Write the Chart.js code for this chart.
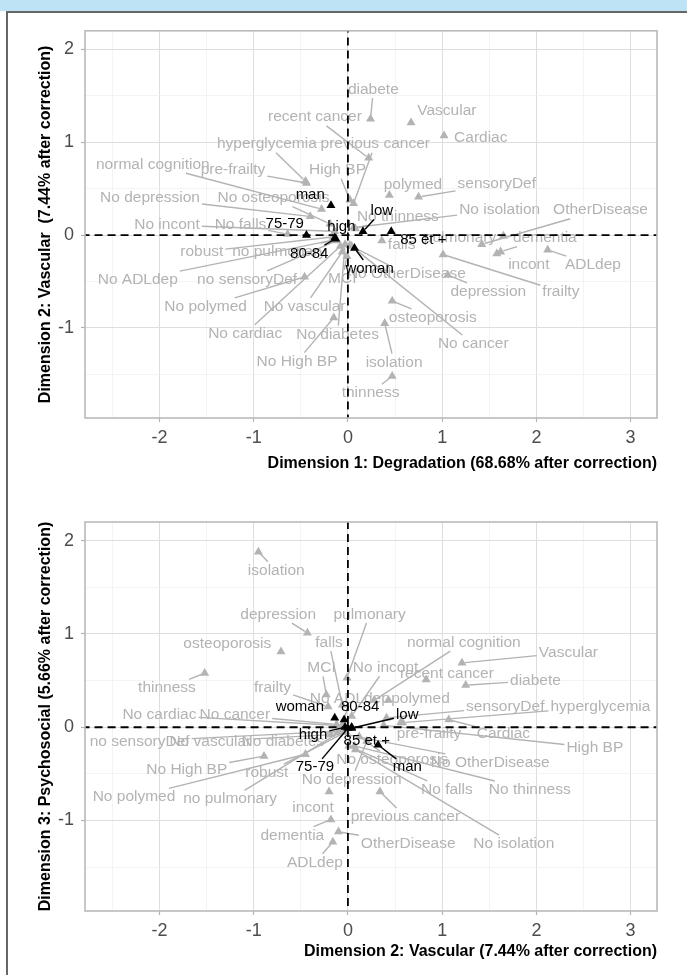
<!DOCTYPE html>
<html><head><meta charset="utf-8">
<script src="https://cdn.jsdelivr.net/npm/chart.js@4.4.0/dist/chart.umd.min.js"></script>
<style>
html,body{margin:0;padding:0;background:#fff;width:687px;height:975px;overflow:hidden;}
#band{position:absolute;left:0;top:0;width:687px;height:11px;background:#bde3f5;}
#frame{position:absolute;left:6px;top:11px;width:700px;height:1000px;border-left:2px solid #666;border-top:2px solid #666;}
#w1{position:absolute;left:0;top:13px;}
#w2{position:absolute;left:0;top:490px;}
</style></head>
<body>
<div id="band"></div><div id="frame"></div>
<div id="w1"><canvas id="c1" width="687" height="477"></canvas></div>
<div id="w2"><canvas id="c2" width="687" height="485"></canvas></div>
<script>
// ---------- data ----------
const categories = ["diabete","No diabetes","recent cancer","previous cancer","No cancer","Vascular","No vascular","Cardiac","No cardiac","hyperglycemia","High BP","No High BP","normal cognition","MCI","dementia","robust","pre-frailty","frailty","No depression","depression","No osteoporosis","osteoporosis","No incont","incont","No falls","falls","no pulmonary","pulmonary","No ADLdep","ADLdep","no sensoryDef","sensoryDef","No polymed","polymed","No thinness","thinness","No isolation","isolation","No OtherDisease","OtherDisease"];
const dim1 = [0.24,-0.03,0.22,0.06,0.04,0.67,-0.06,1.02,-0.08,-0.45,0.02,-0.15,-0.28,-0.01,1.62,-0.16,-0.44,1.01,-0.40,1.06,-0.19,0.47,-0.14,1.58,-0.64,0.36,-0.12,1.65,-0.14,2.12,-0.12,0.75,-0.46,0.44,0.08,0.47,0.06,0.39,0.02,1.42];
const dim2 = [1.25,-0.10,0.83,0.34,-0.12,1.21,-0.18,1.07,-0.12,0.58,0.38,-0.89,0.28,-0.23,-0.18,-0.02,0.56,-0.21,0.20,-0.43,0.12,-0.71,0.04,-0.20,0.01,-0.06,-0.05,-0.01,-0.05,-0.16,-0.06,0.41,-0.45,0.43,0.07,-1.52,0.08,-0.95,-0.11,-0.10];
const dim3 = [0.45,-0.04,0.51,-0.69,0.03,0.69,-0.08,0.08,0.02,0.05,0.02,-0.31,0.29,0.35,-0.99,-0.05,0.05,0.22,-0.15,1.01,-0.10,0.81,0.12,-0.69,-0.20,0.24,-0.03,0.53,0.04,-1.23,-0.04,0.10,-0.29,0.29,-0.20,0.58,-0.24,1.88,-0.06,-1.12];

const suppCategories = ["man","woman","75-79","80-84","85 et +","low","high"];
const suppDim1 = [-0.18,0.07,-0.44,-0.13,0.46,0.16,-0.14];
const suppDim2 = [0.32,-0.14,0.00,-0.04,0.04,0.04,-0.03];
const suppDim3 = [-0.19,0.10,-0.01,0.08,0.00,-0.01,0.00];

// repelled label anchors (data units)
const labelX1 = [0.27,-0.11,-0.35,0.29,1.33,1.05,-0.46,1.41,-1.09,-0.86,-0.11,-0.54,-2.07,-0.06,2.09,-1.55,-1.22,2.26,-2.10,1.49,-0.79,0.90,-1.92,1.92,-1.14,0.57,-0.73,1.19,-2.23,2.60,-1.07,1.58,-1.51,0.69,0.53,0.24,1.61,0.49,0.62,2.68];
const labelY1 = [1.57,-1.07,1.27,0.98,-1.17,1.34,-0.77,1.05,-1.06,0.98,0.70,-1.36,0.76,-0.47,-0.03,-0.18,0.70,-0.61,0.40,-0.61,0.40,-0.89,0.11,-0.32,0.11,-0.10,-0.18,-0.03,-0.48,-0.32,-0.48,0.55,-0.77,0.54,0.20,-1.70,0.27,-1.37,-0.42,0.27];
const labelX2 = [1.99,-0.69,1.05,0.61,-1.20,2.34,-1.46,1.65,-2.00,2.68,2.62,-1.71,1.23,-0.28,-0.59,-0.86,0.86,-0.80,0.04,-0.74,0.47,-1.28,0.40,-0.37,1.05,-0.20,-1.25,0.23,0.02,-0.35,-2.21,1.67,-2.27,0.77,1.93,-1.92,1.76,-0.76,1.51,0.64];
const labelY2 = [0.50,-0.15,0.57,-0.96,0.13,0.80,-0.15,-0.07,0.13,0.22,-0.22,-0.46,0.91,0.64,-1.16,-0.49,-0.07,0.42,-0.56,1.21,-0.35,0.90,0.64,-0.86,-0.67,0.91,-0.77,1.21,0.31,-1.45,-0.15,0.22,-0.75,0.31,-0.67,0.42,-1.25,1.68,-0.38,-1.25];
const suppLabelX1 = [-0.40,0.23,-0.67,-0.41,0.80,0.36,-0.07];
const suppLabelY1 = [0.43,-0.36,0.12,-0.20,-0.05,0.26,0.09];
const suppLabelX2 = [0.63,-0.51,-0.35,0.13,0.20,0.63,-0.37];
const suppLabelY2 = [-0.43,0.22,-0.43,0.22,-0.15,0.13,-0.08];

const xTickValues = [-2,-1,0,1,2,3];
// ---------- drawing ----------
const FONT = "'Liberation Sans', Arial, Helvetica, sans-serif";
const GREY = '#b3b3b3';

function pts(xs, ys){ return xs.map((v,i)=>({x:v, y:ys[i]})); }

function drawGroup(chart, g, color, fontSize){
  const sx = chart.scales.x, sy = chart.scales.y, ctx = chart.ctx, a = chart.chartArea;
  ctx.save();
  ctx.beginPath(); ctx.rect(a.left, a.top, a.right-a.left, a.bottom-a.top); ctx.clip();
  ctx.font = fontSize + 'px ' + FONT;
  ctx.strokeStyle = color; ctx.lineWidth = 1.4;
  const boxes = g.names.map((n,i)=>{
    const w = ctx.measureText(n).width;
    return {lx: sx.getPixelForValue(g.lx[i]), ly: sy.getPixelForValue(g.ly[i]), w: w,
            px: sx.getPixelForValue(g.x[i]), py: sy.getPixelForValue(g.y[i])};
  });
  boxes.forEach(b=>{
    const hw = b.w/2 + 2, hh = fontSize*0.5 + 1;
    const dx = b.px - b.lx, dy = b.py - b.ly;
    if (Math.abs(dx) <= hw && Math.abs(dy) <= hh) return;
    const tx = dx !== 0 ? hw/Math.abs(dx) : Infinity;
    const ty = dy !== 0 ? hh/Math.abs(dy) : Infinity;
    const t = Math.min(tx, ty);
    const x0 = b.lx + dx*t, y0 = b.ly + dy*t;
    const L = Math.hypot(dx, dy);
    const x1 = b.px - dx/L*3, y1 = b.py - dy/L*3;
    if (Math.hypot(x1-x0, y1-y0) < 9) return;
    ctx.beginPath(); ctx.moveTo(x0,y0); ctx.lineTo(x1,y1); ctx.stroke();
  });
  ctx.fillStyle = color; ctx.textAlign = 'center'; ctx.textBaseline = 'middle';
  boxes.forEach((b,i)=>{ ctx.fillText(g.names[i], b.lx, b.ly); });
  ctx.restore();
}

function labelPlugin(cfg){
  return {
    id: 'repel_' + cfg.id,
    beforeDatasetsDraw(chart){ drawGroup(chart, cfg.grey, GREY, 15.5); },
    afterDatasetsDraw(chart){
      drawGroup(chart, cfg.black, '#000', 15);
      const a = chart.chartArea, ctx = chart.ctx;
      ctx.save(); ctx.strokeStyle = '#bababa'; ctx.lineWidth = 1.6;
      ctx.strokeRect(a.left, a.top, a.right-a.left, a.bottom-a.top);
      ctx.restore();
    }
  };
}

const isMajor = c => c.tick && Number.isInteger(c.tick.value);

function build(id, cfg){
  return new Chart(document.getElementById(id), {
    type: 'scatter',
    data: { datasets: [
      {label:'supplementary', data: pts(cfg.black.x, cfg.black.y), pointStyle:'triangle', pointRadius:5.2,
       pointBackgroundColor:'#000', pointBorderWidth:0, order:0},
      {label:'v0', type:'line', data:[{x:0,y:-10},{x:0,y:10}], borderColor:'#000', borderWidth:1.8,
       borderDash:[8,5], pointRadius:0, order:1},
      {label:'h0', type:'line', data:[{x:-10,y:0},{x:10,y:0}], borderColor:'#000', borderWidth:1.8,
       borderDash:[8,5], pointRadius:0, order:1},
      {label:'active', data: pts(cfg.grey.x, cfg.grey.y), pointStyle:'triangle', pointRadius:5.2,
       pointBackgroundColor:GREY, pointBorderWidth:0, order:2}
    ]},
    options: {
      responsive:false, animation:false, events:[],
      layout:{padding:{top:cfg.padTop, right:30, bottom:cfg.padBottom, left:0}},
      plugins:{legend:{display:false}, tooltip:{enabled:false}},
      scales:{
        x:{type:'linear', position:'bottom', min:-2.79, max:3.28,
           afterFit(s){ s.height = cfg.xAxisH; },
           border:{display:false},
           grid:{color:c=>isMajor(c)?'#dedede':'#efefef', lineWidth:c=>isMajor(c)?1:0.7,
                 tickColor:c=>isMajor(c)?'#b3b3b3':'rgba(0,0,0,0)', tickLength:4, tickWidth:1.2},
           ticks:{stepSize:0.5, includeBounds:false, autoSkip:false, maxRotation:0, minRotation:0,
                  padding:5, color:'#4d4d4d', font:{family:FONT, size:18},
                  callback:v=>xTickValues.includes(v)?String(v):''},
           title:{display:true, text:cfg.xTitle, align:'end', color:'#000',
                  font:{family:FONT, size:16, weight:'bold'}, padding:0}},
        y:{type:'linear', position:'left', min:-1.97, max:2.2,
           afterFit(s){ s.width = 85; },
           border:{display:false},
           grid:{color:c=>isMajor(c)?'#dedede':'#efefef', lineWidth:c=>isMajor(c)?1:0.7,
                 tickColor:c=>isMajor(c)?'#b3b3b3':'rgba(0,0,0,0)', tickLength:4, tickWidth:1.2},
           ticks:{stepSize:0.5, includeBounds:false, autoSkip:false, padding:7, color:'#4d4d4d',
                  font:{family:FONT, size:18}, callback:v=>Number.isInteger(v)?String(v):''},
           title:{display:true, text:cfg.yTitle, color:'#000',
                  font:{family:FONT, size:16, weight:'bold'}, padding:{top:36.4, bottom:0}}}
      }
    },
    plugins:[labelPlugin(cfg)]
  });
}

build('c1', {
  id:1, padTop:15, padBottom:16.4, xAxisH:55.6,
  xTitle:'Dimension 1: Degradation (68.68% after correction)',
  yTitle:'Dimension 2: Vascular  (7.44% after correction)',
  grey:{names:categories, x:dim1, y:dim2, lx:labelX1, ly:labelY1},
  black:{names:suppCategories, x:suppDim1, y:suppDim2, lx:suppLabelX1, ly:suppLabelY1}
});
build('c2', {
  id:2, padTop:32, padBottom:13.4, xAxisH:50.6,
  xTitle:'Dimension 2: Vascular (7.44% after correction)',
  yTitle:'Dimension 3: Psychosocial (5.66% after correction)',
  grey:{names:categories, x:dim2, y:dim3, lx:labelX2, ly:labelY2},
  black:{names:suppCategories, x:suppDim2, y:suppDim3, lx:suppLabelX2, ly:suppLabelY2}
});
</script>
</body></html>
